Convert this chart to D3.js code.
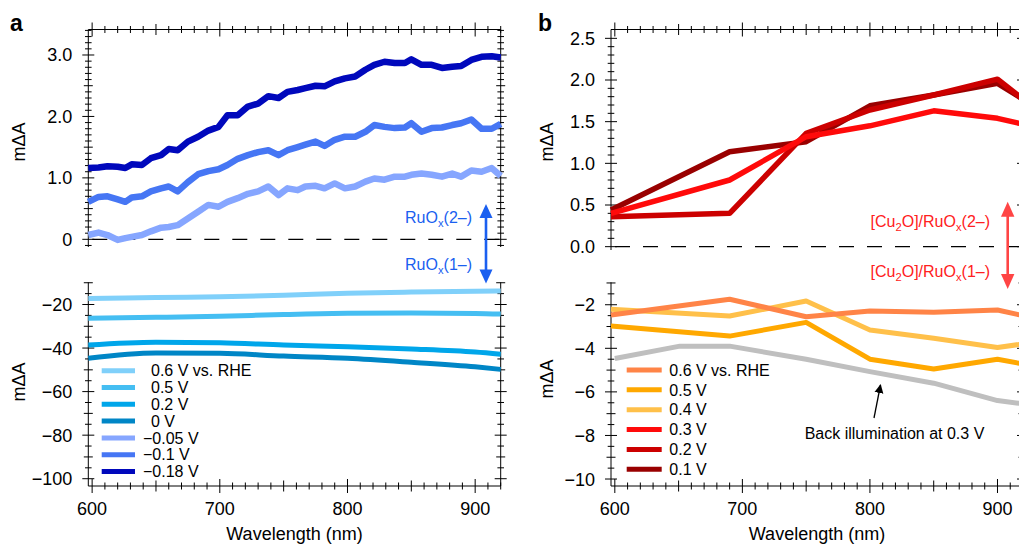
<!DOCTYPE html>
<html>
<head>
<meta charset="utf-8">
<script src="https://cdn.jsdelivr.net/npm/d3@7"></script>
<style>
  body { margin: 0; background: #fff; }
  svg { display: block; font-family: "Liberation Sans", Arial, Helvetica, sans-serif; }
</style>
</head>
<body>
<svg id="chart" width="1019" height="545"></svg>
<script>
// ---- panel a, upper part (noisy spectra) ----
const aWave = [597, 605, 612, 620, 626, 631, 639, 646, 654, 660, 667, 675, 683, 691, 699, 706, 714, 722, 730, 738, 746, 753,
  761, 767, 775, 782, 790, 798, 806, 814, 821, 829, 837, 845, 850, 858, 866, 874, 882, 889, 897, 905, 913, 920];
const aNeg018 = [1.16, 1.17, 1.19, 1.18, 1.16, 1.22, 1.21, 1.32, 1.37, 1.47, 1.45, 1.59, 1.67, 1.77, 1.83, 2.02, 2.02, 2.16, 2.21, 2.33, 2.30, 2.40,
  2.43, 2.46, 2.50, 2.49, 2.57, 2.62, 2.65, 2.76, 2.84, 2.89, 2.87, 2.87, 2.93, 2.84, 2.84, 2.79, 2.81, 2.82, 2.92, 2.97, 2.98, 2.96];
const aNeg01 = [0.61, 0.69, 0.70, 0.65, 0.61, 0.68, 0.70, 0.78, 0.83, 0.86, 0.78, 0.93, 1.06, 1.11, 1.14, 1.21, 1.31, 1.37, 1.42, 1.45, 1.37, 1.45,
  1.50, 1.54, 1.59, 1.52, 1.62, 1.67, 1.67, 1.75, 1.86, 1.83, 1.81, 1.82, 1.89, 1.75, 1.81, 1.82, 1.86, 1.89, 1.95, 1.80, 1.80, 1.88];
const aNeg005 = [0.07, 0.11, 0.07, -0.01, 0.02, 0.04, 0.07, 0.13, 0.19, 0.20, 0.23, 0.34, 0.45, 0.56, 0.53, 0.61, 0.67, 0.74, 0.78, 0.86, 0.72, 0.83,
  0.80, 0.86, 0.87, 0.83, 0.91, 0.83, 0.86, 0.94, 0.99, 0.97, 1.02, 1.02, 1.05, 1.07, 1.05, 1.02, 1.07, 1.02, 1.12, 1.10, 1.16, 1.03];

// ---- panel a, lower part (smooth spectra) ----
const aWaveLow = [597, 650, 700, 750, 800, 850, 900, 920];
const a06 = [-17.2, -16.8, -16.4, -15.8, -14.8, -14.3, -13.9, -13.8];
const a05 = [-26.3, -25.9, -25.4, -24.6, -24.0, -23.9, -24.1, -24.4];
const a02 = [-38.6, -37.3, -37.6, -38.6, -39.4, -40.4, -41.8, -42.8];
const a00 = [-44.7, -42.3, -42.4, -43.7, -44.7, -46.5, -48.6, -49.8];

const aLegend = ['0.6 V vs. RHE', '0.5 V', '0.2 V', '0 V', '\u22120.05 V', '\u22120.1 V', '\u22120.18 V'];
const aColors = ['#80d0fa', '#45bef2', '#00a6ea', '#0086c6', '#86a6ff', '#4676f4', '#0008bc'];

// ---- panel b ----
const bWave = [597, 690, 750, 800, 850, 900, 920];
const b03 = [0.40, 0.80, 1.32, 1.45, 1.63, 1.54, 1.47];
const b02 = [0.36, 0.40, 1.36, 1.64, 1.82, 2.01, 1.77];
const b01 = [0.44, 1.14, 1.26, 1.69, 1.82, 1.96, 1.77];
const b06 = [-2.47, -1.75, -2.55, -2.29, -2.35, -2.24, -2.50];
const b05 = [-2.98, -3.44, -2.81, -4.50, -4.95, -4.50, -4.72];
const b04 = [-2.21, -2.52, -1.83, -3.16, -3.54, -3.96, -3.80];
const bBackWave = [600, 651, 690, 750, 800, 850, 900, 920];
const bBack = [-4.47, -3.90, -3.90, -4.50, -5.07, -5.60, -6.40, -6.55];

const bLegend = ['0.6 V vs. RHE', '0.5 V', '0.4 V', '0.3 V', '0.2 V', '0.1 V'];
const bColors = ['#ff8447', '#ffa800', '#ffc04a', '#ff0a0a', '#cc0000', '#990000'];
const backColor = '#bfbfbf';

const xTicks = [600, 700, 800, 900];

const svg = d3.select('#chart');
svg.append('rect').attr('width', 1019).attr('height', 545).attr('fill', '#fff');

svg.append('defs').append('marker')
  .attr('id', 'head')
  .attr('viewBox', '0 0 10 10')
  .attr('refX', 9).attr('refY', 5)
  .attr('markerWidth', 9).attr('markerHeight', 10)
  .attr('markerUnits', 'userSpaceOnUse')
  .attr('orient', 'auto')
  .append('path').attr('d', 'M0,0 L10,5 L0,10 z').attr('fill', '#000');

// draws the box, the crossing ticks and the labels of one panel
function drawFrame(cfg) {
  const g = svg.append('g');
  const x = cfg.x, yT = cfg.yTop, yB = cfg.yBot;
  const [x0, x1] = x.range();
  const topY = yT.range()[1], topEnd = yT.range()[0];
  const botY = yB.range()[1], botEnd = yB.range()[0];

  const ax = g.append('g').attr('stroke', '#000').attr('stroke-width', 1).attr('fill', 'none');
  // axis lines
  [x0, x1].forEach(xx => {
    ax.append('line').attr('x1', xx).attr('x2', xx).attr('y1', topY).attr('y2', topEnd);
    ax.append('line').attr('x1', xx).attr('x2', xx).attr('y1', botY).attr('y2', botEnd);
  });
  ax.append('line').attr('x1', x0).attr('x2', x1).attr('y1', topY).attr('y2', topY);
  ax.append('line').attr('x1', x0).attr('x2', x1).attr('y1', botEnd).attr('y2', botEnd);

  // x ticks every 10 nm, top and bottom
  const xt = d3.range(600, 921, 10);
  const xlen = v => v % 100 === 0 ? 7 : (v % 50 === 0 ? 5.5 : 3.5);
  [topY, botEnd].forEach(yy => {
    ax.selectAll(null).data(xt).join('line')
      .attr('x1', d => x(d)).attr('x2', d => x(d))
      .attr('y1', d => yy - xlen(d)).attr('y2', d => yy + xlen(d));
  });

  // y ticks, both sides
  function yTicks(scale, vals, lenFn) {
    [x0, x1].forEach(xx => {
      ax.selectAll(null).data(vals).join('line')
        .attr('y1', d => scale(d)).attr('y2', d => scale(d))
        .attr('x1', d => xx - lenFn(d)).attr('x2', d => xx + lenFn(d));
    });
  }
  yTicks(yT, cfg.topMinor, cfg.topLen);
  yTicks(yB, cfg.botMinor, cfg.botLen);

  // labels
  const lab = g.append('g').attr('font-size', 18).attr('fill', '#000');
  lab.selectAll(null).data(xTicks).join('text')
    .attr('x', d => x(d)).attr('y', 515).attr('text-anchor', 'middle').text(d => d);
  lab.selectAll(null).data(cfg.topMajor).join('text')
    .attr('x', x0 - 16).attr('y', d => yT(d)).attr('dy', '0.36em')
    .attr('text-anchor', 'end').text(cfg.topFmt);
  lab.selectAll(null).data(cfg.botMajor).join('text')
    .attr('x', x0 - 16).attr('y', d => yB(d)).attr('dy', '0.36em')
    .attr('text-anchor', 'end').text(d3.format('d'));

  lab.append('text').attr('x', (x0 + x1) / 2).attr('y', 540).attr('text-anchor', 'middle')
    .text('Wavelength (nm)');
  [cfg.topLabelY, cfg.botLabelY].forEach(cy => {
    lab.append('text').attr('transform', `translate(${cfg.yLabelX},${cy}) rotate(-90)`)
      .attr('text-anchor', 'middle').text('m\u0394A');
  });
  svg.append('text').attr('x', cfg.letterX).attr('y', 31).attr('font-size', 23)
    .attr('font-weight', 'bold').text(cfg.letter);
}

function zeroLine(x, y) {
  svg.append('line')
    .attr('x1', x.range()[0] + 4).attr('x2', x.range()[1])
    .attr('y1', y(0)).attr('y2', y(0))
    .attr('stroke', '#000').attr('stroke-width', 1.2).attr('stroke-dasharray', '15,13');
}

function series(x, y, wave, vals, color, width, curve) {
  const line = d3.line().x(d => x(d[0])).y(d => y(d[1])).curve(curve || d3.curveLinear);
  svg.append('path')
    .datum(d3.zip(wave, vals))
    .attr('d', line)
    .attr('fill', 'none').attr('stroke', color).attr('stroke-width', width)
    .attr('stroke-linejoin', 'round').attr('stroke-linecap', 'butt');
}

// text with subscripts: parts = [[text, sub], ...], then tail
function subText(x, y, parts, tail, col, size) {
  const t = svg.append('text').attr('x', x).attr('y', y).attr('text-anchor', 'end')
    .attr('font-size', size).attr('fill', col);
  let down = false;
  parts.forEach(p => {
    t.append('tspan').attr('dy', down ? -4 : 0).text(p[0]);
    t.append('tspan').attr('font-size', size * 0.7).attr('dy', 4).text(p[1]);
    down = true;
  });
  t.append('tspan').attr('dy', down ? -4 : 0).text(tail);
}

// ================= panel a =================
const xA = d3.scaleLinear().domain([597, 920]).range([88.3, 500.7]);
const yAtop = d3.scaleLinear().domain([-0.125, 3.415]).range([247, 29.5]);
const yAbot = d3.scaleLinear().domain([-103.35, -9.8]).range([486, 282.3]);

drawFrame({
  x: xA, yTop: yAtop, yBot: yAbot,
  topMinor: d3.range(-1, 35).map(i => i / 10),
  topLen: v => Math.abs(v * 10 % 10) < 1e-6 ? 6 : (Math.abs(v * 10 % 5) < 1e-6 ? 4.5 : 3.3),
  topMajor: [0, 1, 2, 3], topFmt: d => d === 0 ? '0' : d.toFixed(1),
  botMinor: d3.range(-100, -9, 5),
  botLen: v => v % 20 === 0 ? 6 : (v % 10 === 0 ? 4.5 : 3.3),
  botMajor: [-100, -80, -60, -40, -20],
  yLabelX: 25, topLabelY: 142, botLabelY: 382,
  letter: 'a', letterX: 10
});
zeroLine(xA, yAtop);

series(xA, yAbot, aWaveLow, a00, aColors[3], 5, d3.curveMonotoneX);
series(xA, yAbot, aWaveLow, a02, aColors[2], 5, d3.curveMonotoneX);
series(xA, yAbot, aWaveLow, a05, aColors[1], 5, d3.curveMonotoneX);
series(xA, yAbot, aWaveLow, a06, aColors[0], 5, d3.curveMonotoneX);
series(xA, yAtop, aWave, aNeg005, aColors[4], 6.5);
series(xA, yAtop, aWave, aNeg01, aColors[5], 6.5);
series(xA, yAtop, aWave, aNeg018, aColors[6], 6.5);

// legend a
const legA = svg.append('g').attr('font-size', 16);
aLegend.forEach((t, i) => {
  const yy = 370.7 + i * 16.8;
  legA.append('line').attr('x1', 101.7).attr('x2', 135).attr('y1', yy).attr('y2', yy)
    .attr('stroke', aColors[i]).attr('stroke-width', 5);
  legA.append('text').attr('x', t.startsWith('\u2212') ? 143 : 151).attr('y', yy + 5.7).text(t);
});

// RuOx arrow
const blueArrow = '#1a5ff0';
svg.append('line').attr('x1', 486).attr('x2', 486).attr('y1', 216).attr('y2', 271)
  .attr('stroke', blueArrow).attr('stroke-width', 2.6);
svg.append('path').attr('d', 'M486,204 L479.5,218 L492.5,218 Z').attr('fill', blueArrow);
svg.append('path').attr('d', 'M486,283.5 L479.5,269.5 L492.5,269.5 Z').attr('fill', blueArrow);
subText(472, 223, [['RuO', 'x']], '(2\u2013)', blueArrow, 16);
subText(472, 270, [['RuO', 'x']], '(1\u2013)', blueArrow, 16);

// ================= panel b =================
const xB = d3.scaleLinear().domain([597, 920]).range([611, 1023]);
const yBtop = d3.scaleLinear().domain([-0.04, 2.606]).range([250, 29.5]);
const yBbot = d3.scaleLinear().domain([-10.32, -0.97]).range([486, 282.3]);

drawFrame({
  x: xB, yTop: yBtop, yBot: yBbot,
  topMinor: d3.range(0, 26).map(i => i / 10),
  topLen: v => Math.abs(Math.round(v * 10) % 5) === 0 ? 6 : 3.3,
  topMajor: [0, 0.5, 1, 1.5, 2, 2.5], topFmt: d => d.toFixed(1),
  botMinor: d3.range(-20, -1).map(i => i / 2),
  botLen: v => v % 2 === 0 ? 6 : (Number.isInteger(v) ? 4.5 : 3.3),
  botMajor: [-10, -8, -6, -4, -2],
  yLabelX: 553, topLabelY: 142, botLabelY: 379,
  letter: 'b', letterX: 538
});
zeroLine(xB, yBtop);

series(xB, yBbot, bBackWave, bBack, backColor, 5);
series(xB, yBbot, bWave, b04, bColors[2], 5);
series(xB, yBbot, bWave, b05, bColors[1], 5);
series(xB, yBbot, bWave, b06, bColors[0], 5);
series(xB, yBtop, bWave, b01, bColors[5], 5.5);
series(xB, yBtop, bWave, b02, bColors[4], 5.5);
series(xB, yBtop, bWave, b03, bColors[3], 5.5);

// legend b
const legB = svg.append('g').attr('font-size', 16);
bLegend.forEach((t, i) => {
  const yy = 370 + i * 19.85;
  legB.append('line').attr('x1', 626.7).attr('x2', 661.7).attr('y1', yy).attr('y2', yy)
    .attr('stroke', bColors[i]).attr('stroke-width', 5);
  legB.append('text').attr('x', 669.3).attr('y', yy + 5.7).text(t);
});

// back illumination note
svg.append('line').attr('x1', 874).attr('y1', 418).attr('x2', 880.5).attr('y2', 385)
  .attr('stroke', '#000').attr('stroke-width', 1.3).attr('marker-end', 'url(#head)');
svg.append('text').attr('x', 894.5).attr('y', 439).attr('text-anchor', 'middle')
  .attr('font-size', 16).text('Back illumination at 0.3 V');

// Cu2O arrow
const redArrow = '#ff4545';
svg.append('line').attr('x1', 1007.7).attr('x2', 1007.7).attr('y1', 214).attr('y2', 277)
  .attr('stroke', redArrow).attr('stroke-width', 2.6);
svg.append('path').attr('d', 'M1007.7,201.7 L1001,216.7 L1014.4,216.7 Z').attr('fill', redArrow);
svg.append('path').attr('d', 'M1007.7,289 L1001,274 L1014.4,274 Z').attr('fill', redArrow);
subText(990, 227, [['[Cu', '2'], ['O]/RuO', 'x']], '(2\u2013)', '#ff2020', 16);
subText(990, 277, [['[Cu', '2'], ['O]/RuO', 'x']], '(1\u2013)', '#ff2020', 16);
</script>
</body>
</html>
